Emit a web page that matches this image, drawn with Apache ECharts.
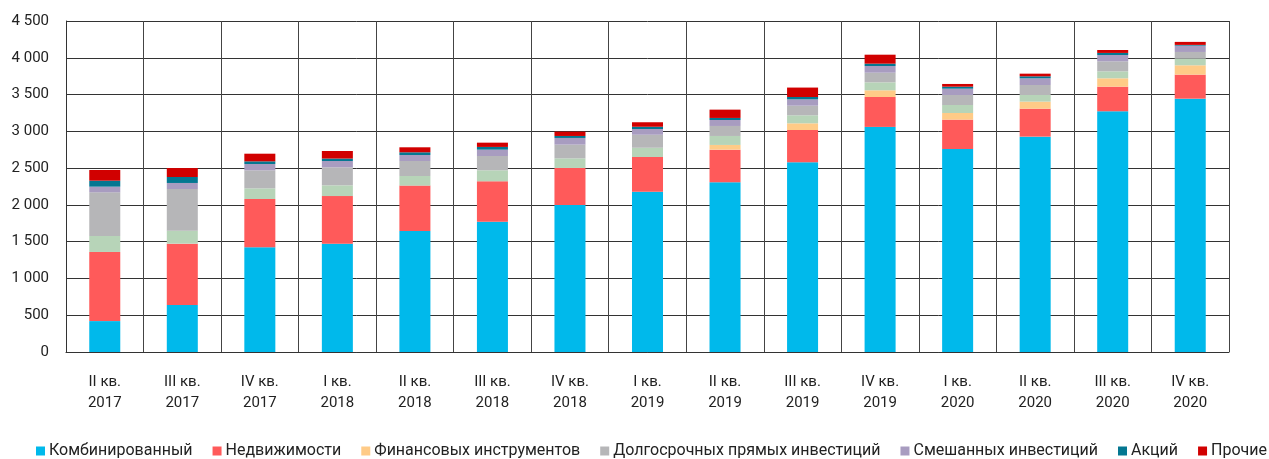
<!DOCTYPE html>
<html>
<head>
<meta charset="utf-8">
<script src="https://cdn.jsdelivr.net/npm/echarts@6/dist/echarts.min.js"></script>
<style>
  html, body { margin: 0; padding: 0; background: #fff; }
  #chart { width: 1269px; height: 459px; }
</style>
</head>
<body>
<div id="chart"></div>
<script>
  // кварталы
  const categories = ['II кв.\n2017', 'III кв.\n2017', 'IV кв.\n2017', 'I кв.\n2018', 'II кв.\n2018',
    'III кв.\n2018', 'IV кв.\n2018', 'I кв.\n2019', 'II кв.\n2019', 'III кв.\n2019',
    'IV кв.\n2019', 'I кв.\n2020', 'II кв.\n2020', 'III кв.\n2020', 'IV кв.\n2020']

  const combined = [420, 640, 1423, 1470, 1645, 1772, 2000, 2180, 2307, 2580, 3060, 2760, 2928, 3273, 3444]
  const realty = [940, 833, 657, 650, 617, 549, 502, 471, 444, 438, 407, 399, 380, 334, 327]
  const finInstr = [0, 0, 0, 0, 0, 0, 0, 0, 64, 91, 91, 90, 96, 114, 127]
  const unnamed = [217, 177, 145, 146, 131, 149, 131, 127, 122, 109, 108, 109, 90, 95, 91]
  const longTerm = [594, 566, 245, 245, 204, 195, 186, 177, 136, 131, 131, 136, 136, 136, 90]
  const mixed = [77, 82, 86, 86, 81, 86, 91, 77, 81, 86, 91, 86, 91, 86, 86]
  const shares = [81, 81, 36, 33, 37, 37, 27, 32, 28, 32, 32, 27, 27, 28, 10]
  const other = [145, 122, 104, 103, 68, 58, 59, 59, 113, 128, 122, 37, 36, 40, 41]

  const yTicks = [0, 500, 1000, 1500, 2000, 2500, 3000, 3500, 4000, 4500]

  const font = 'Roboto'

  function bar (name, data, color) {
    return {
      name: name,
      type: 'bar',
      stack: 'total',
      barWidth: '40%',
      itemStyle: { color: color },
      emphasis: { disabled: true },
      data: data
    }
  }

  const dom = echarts.init(document.getElementById('chart'))
  const option = {
    animation: false,
    textStyle: { fontFamily: font },
    grid: { left: 66, right: 40, top: 21, bottom: 107 },
    legend: {
      top: 443,
      left: 36,
      width: 1233,
      padding: 0,
      itemWidth: 9,
      itemHeight: 9,
      itemGap: 20,
      icon: 'rect',
      textStyle: { fontFamily: font, fontSize: 16, color: '#222', padding: [0, 0, 0, -1] },
      data: ['Комбинированный', 'Недвижимости', 'Финансовых инструментов',
        'Долгосрочных прямых инвестиций', 'Смешанных инвестиций', 'Акций', 'Прочие']
    },
    xAxis: {
      type: 'category',
      boundaryGap: true,
      data: categories,
      axisTick: { show: false },
      axisLine: { lineStyle: { color: '#333', width: 1 } },
      splitLine: { show: true, interval: 0, lineStyle: { color: '#444', width: 1 } },
      axisLabel: { interval: 0, margin: 20, fontSize: 15, lineHeight: 21, color: '#222', fontFamily: font }
    },
    yAxis: {
      type: 'value',
      min: yTicks[0],
      max: yTicks[yTicks.length - 1],
      interval: 500,
      axisLine: { show: true, lineStyle: { color: '#333', width: 1 } },
      axisTick: { show: false },
      splitLine: { lineStyle: { color: '#333', width: 1 } },
      axisLabel: {
        fontSize: 15,
        color: '#222',
        margin: 17,
        fontFamily: font,
        formatter: v => String(v).replace(/\B(?=(\d{3})+(?!\d))/g, ' ')
      }
    },
    series: [
      bar('Комбинированный', combined, '#00b9eb'),
      bar('Недвижимости', realty, '#ff5a5a'),
      bar('Финансовых инструментов', finInstr, '#ffcb87'),
      bar('Рентный', unnamed, '#b7d4b8'),
      bar('Долгосрочных прямых инвестиций', longTerm, '#b6b6b8'),
      bar('Смешанных инвестиций', mixed, '#a89cc0'),
      bar('Акций', shares, '#047791'),
      bar('Прочие', other, '#d10000')
    ]
  }
  dom.setOption(option)
  window.addEventListener('resize', () => dom.resize())
</script>
</body>
</html>
